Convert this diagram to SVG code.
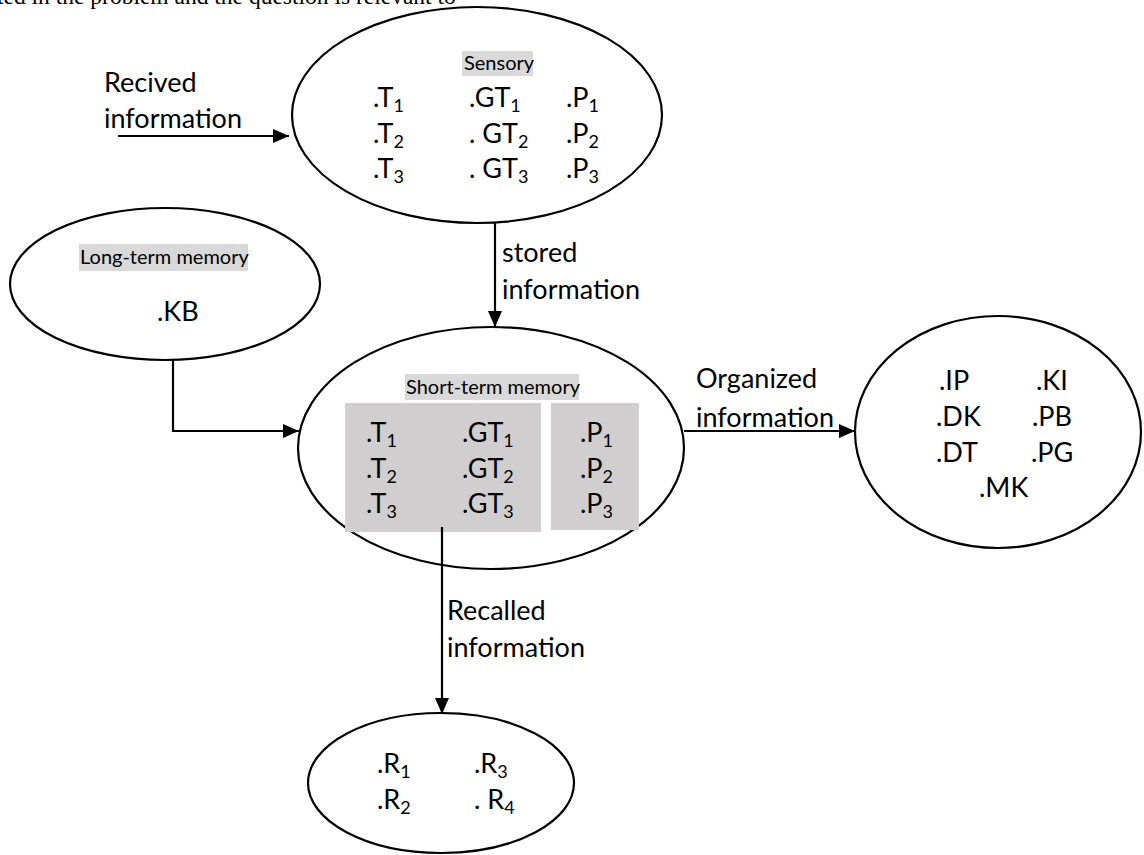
<svg xmlns="http://www.w3.org/2000/svg" width="1144" height="855" viewBox="0 0 1144 855">
<defs>
<marker id="ah" markerWidth="16" markerHeight="14" refX="16" refY="7" orient="auto" markerUnits="userSpaceOnUse">
<path d="M0,0 L16,7 L0,14 Z" fill="#000"/>
</marker>
<style>
.node{fill:#fff;stroke:#000;stroke-width:2.2}
.t{font-family:Lato,"Liberation Sans",sans-serif;font-size:27px;fill:#000}
.lab{font-family:Lato,"Liberation Sans",sans-serif;font-size:20px;fill:#000}
.hl{fill:#d9d9d9}
.box{fill:#d0cece}
.s{font-size:18px}
.conn{fill:none;stroke:#000;stroke-width:2.2;marker-end:url(#ah)}
.top{font-family:"Liberation Serif",serif;font-size:23.5px;fill:#000}
</style>
</defs>
<rect width="1144" height="855" fill="#fff"/>
<text class="top" x="-3" y="4">ted in the problem and the question is relevant to</text>

<g id="sensory">
<ellipse class="node" cx="477" cy="115" rx="185" ry="108"/>
<rect class="hl" x="462" y="51" width="71" height="25"/>
<text class="lab" x="464" y="70">Sensory</text>
<text class="t" x="373" y="107">.T<tspan class="s" dy="5">1</tspan></text>
<text class="t" x="469" y="107">.GT<tspan class="s" dy="5">1</tspan></text>
<text class="t" x="566" y="107">.P<tspan class="s" dy="5">1</tspan></text>
<text class="t" x="373" y="143">.T<tspan class="s" dy="5">2</tspan></text>
<text class="t" x="469" y="143">. GT<tspan class="s" dy="5">2</tspan></text>
<text class="t" x="566" y="143">.P<tspan class="s" dy="5">2</tspan></text>
<text class="t" x="373" y="178">.T<tspan class="s" dy="5">3</tspan></text>
<text class="t" x="469" y="178">. GT<tspan class="s" dy="5">3</tspan></text>
<text class="t" x="566" y="178">.P<tspan class="s" dy="5">3</tspan></text>
</g>

<g id="long-term">
<ellipse class="node" cx="165" cy="284" rx="155" ry="76"/>
<rect class="hl" x="79" y="244" width="169" height="27"/>
<text class="lab" x="80" y="264">Long-term memory</text>
<text class="t" x="157" y="321">.KB</text>
</g>

<g id="short-term">
<ellipse class="node" cx="491" cy="448" rx="193" ry="121"/>
<rect class="hl" x="405" y="374" width="174" height="26"/>
<rect class="box" x="345" y="403" width="196" height="129"/>
<rect class="box" x="551" y="403" width="88" height="127"/>
<text class="lab" x="406" y="394">Short-term memory</text>
<text class="t" x="366" y="442">.T<tspan class="s" dy="5">1</tspan></text>
<text class="t" x="462" y="442">.GT<tspan class="s" dy="5">1</tspan></text>
<text class="t" x="580" y="442">.P<tspan class="s" dy="5">1</tspan></text>
<text class="t" x="366" y="478">.T<tspan class="s" dy="5">2</tspan></text>
<text class="t" x="462" y="478">.GT<tspan class="s" dy="5">2</tspan></text>
<text class="t" x="580" y="478">.P<tspan class="s" dy="5">2</tspan></text>
<text class="t" x="366" y="513">.T<tspan class="s" dy="5">3</tspan></text>
<text class="t" x="462" y="513">.GT<tspan class="s" dy="5">3</tspan></text>
<text class="t" x="580" y="513">.P<tspan class="s" dy="5">3</tspan></text>
</g>

<g id="organized">
<ellipse class="node" cx="998" cy="432" rx="143" ry="116"/>
<text class="t" x="939" y="390">.IP</text>
<text class="t" x="1036" y="390">.KI</text>
<text class="t" x="936" y="426">.DK</text>
<text class="t" x="1032" y="426">.PB</text>
<text class="t" x="936" y="462">.DT</text>
<text class="t" x="1031" y="462">.PG</text>
<text class="t" x="979" y="497">.MK</text>
</g>

<g id="recalled">
<ellipse class="node" cx="441" cy="783" rx="133" ry="70"/>
<text class="t" x="377" y="773">.R<tspan class="s" dy="5">1</tspan></text>
<text class="t" x="474" y="773">.R<tspan class="s" dy="5">3</tspan></text>
<text class="t" x="377" y="809">.R<tspan class="s" dy="5">2</tspan></text>
<text class="t" x="474" y="809">. R<tspan class="s" dy="5">4</tspan></text>
</g>

<g id="connectors">
<path class="conn" d="M118,136 H289"/>
<path class="conn" d="M495,223 V327"/>
<path class="conn" d="M173,359 V431 H299"/>
<path class="conn" d="M684,431 H855"/>
<path class="conn" d="M442,527 V714"/>
<text class="t" x="104" y="92">Recived</text>
<text class="t" x="104" y="128">information</text>
<text class="t" x="502" y="262">stored</text>
<text class="t" x="502" y="299">information</text>
<text class="t" x="696" y="388">Organized</text>
<text class="t" x="696" y="427">information</text>
<text class="t" x="447" y="620">Recalled</text>
<text class="t" x="447" y="657">information</text>
</g>
</svg>
